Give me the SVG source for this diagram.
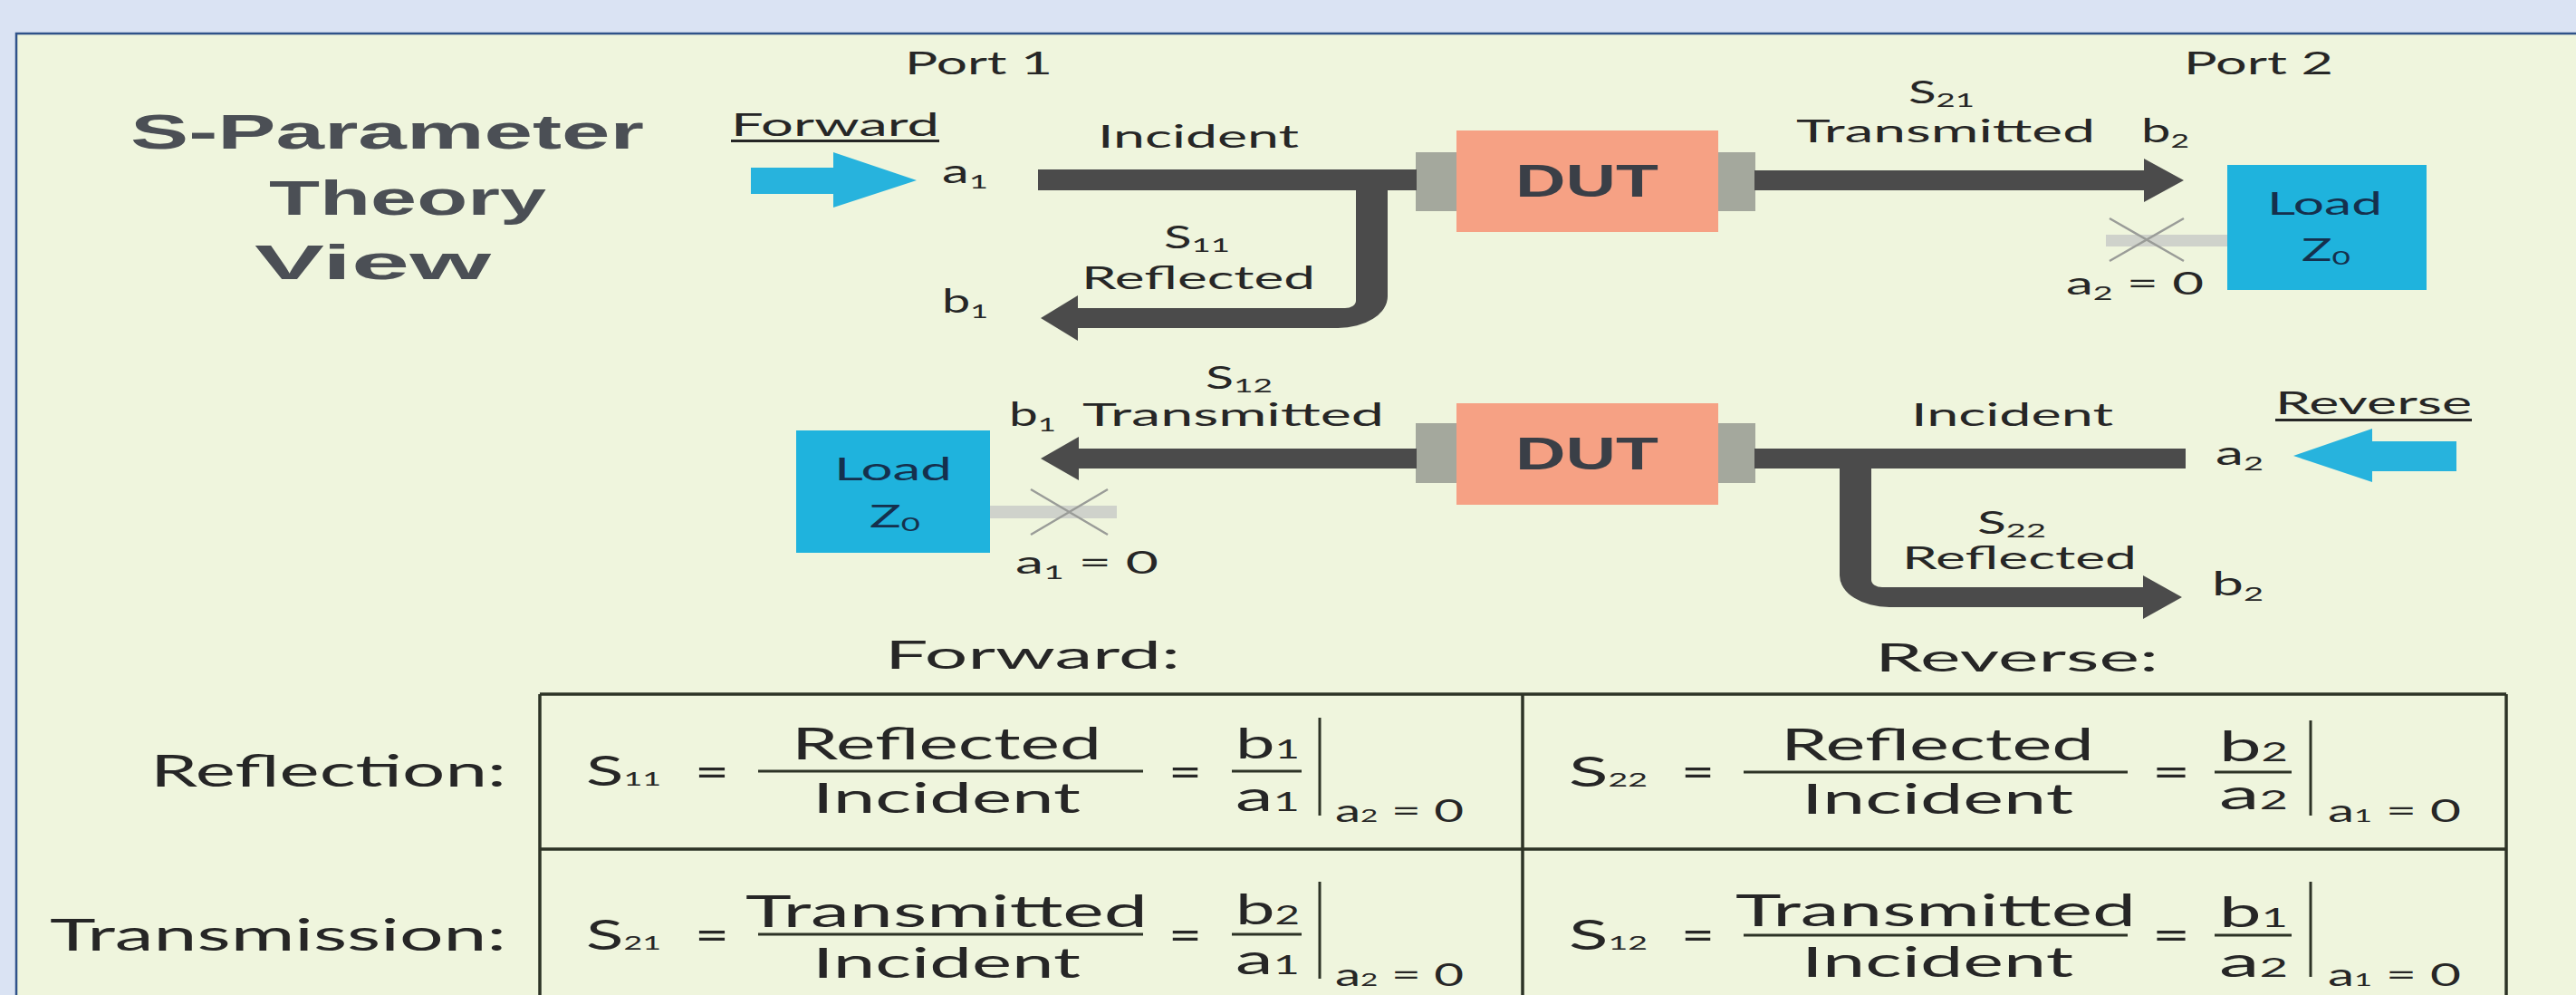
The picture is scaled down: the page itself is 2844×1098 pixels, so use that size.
<svg xmlns="http://www.w3.org/2000/svg" width="2844" height="1098" viewBox="0 0 2844 1098">
<style>
.lbl{font-family:Lato,"Open Sans","Liberation Sans",sans-serif;fill:#262626}
.ttl{font-family:"Liberation Sans",Arial,sans-serif;font-weight:bold;fill:#4b4f55}
.dut{font-family:"Liberation Sans",Arial,sans-serif;font-weight:bold;fill:#3a3f47;font-size:50px}
.load{font-family:Lato,"Open Sans","Liberation Sans",sans-serif;fill:#15304d}
.bar{fill:#4b4b4b}
.blue{fill:#27b3dd}
.tline{stroke:#2d3326;stroke-width:3.5;fill:none}
.fbar{stroke:#2d3326;stroke-width:3;fill:none}
.xmark{stroke:#9a9c98;stroke-width:2.5;fill:none}
.stub{fill:#cfd2cb}
</style>
<rect x="0" y="0" width="2844" height="1098" fill="#dae3f3"/>
<rect x="18" y="37" width="2830" height="1070" fill="#eff5dd" stroke="#2f5289" stroke-width="2.5"/>

<g id="title">
<text class="ttl" x="144" y="164" font-size="54" textLength="567" lengthAdjust="spacingAndGlyphs">S-Parameter</text>
<text class="ttl" x="297" y="237" font-size="54" textLength="306" lengthAdjust="spacingAndGlyphs">Theory</text>
<text class="ttl" x="281" y="308" font-size="54" textLength="261" lengthAdjust="spacingAndGlyphs">View</text>
</g>

<g id="port-labels">
<text class="lbl" x="999" y="82" font-size="35" textLength="163" lengthAdjust="spacingAndGlyphs">Port 1</text>
<text class="lbl" x="2411" y="82" font-size="35" textLength="165" lengthAdjust="spacingAndGlyphs">Port 2</text>
</g>

<g id="forward-source">
<text class="lbl" x="807" y="150" font-size="35" textLength="230" lengthAdjust="spacingAndGlyphs">Forward</text>
<rect x="807" y="154" width="230" height="3" fill="#262626"/>
<path class="blue" d="M829 185 L920 185 L920 168 L1012 199 L920 229 L920 214 L829 214 Z"/>
</g>

<g id="reverse-source">
<text class="lbl" x="2512" y="457" font-size="35" textLength="217" lengthAdjust="spacingAndGlyphs">Reverse</text>
<rect x="2512" y="462" width="217" height="3" fill="#262626"/>
<path class="blue" d="M2712 487 L2619 487 L2619 473 L2532 503 L2619 532 L2619 520 L2712 520 Z"/>
</g>

<g id="dut-forward">
<rect x="1563" y="168" width="45" height="65" fill="#a4a89d"/>
<rect x="1897" y="168" width="41" height="65" fill="#a4a89d"/>
<rect x="1608" y="144" width="289" height="112" fill="#f6a184"/>
<text class="dut" x="1752" y="217" text-anchor="middle" textLength="158" lengthAdjust="spacingAndGlyphs">DUT</text>
</g>

<g id="dut-reverse">
<rect x="1563" y="467" width="45" height="66" fill="#a4a89d"/>
<rect x="1897" y="467" width="41" height="66" fill="#a4a89d"/>
<rect x="1608" y="445" width="289" height="112" fill="#f6a184"/>
<text class="dut" x="1752" y="518" text-anchor="middle" textLength="158" lengthAdjust="spacingAndGlyphs">DUT</text>
</g>

<g id="load-port2">
<rect class="stub" x="2325" y="259" width="136" height="13"/>
<path class="xmark" d="M2329 241 L2411 288 M2329 288 L2411 241"/>
<rect x="2459" y="182" width="220" height="138" fill="#1fb3dd"/>
<text class="load" x="2503" y="237" font-size="35" textLength="127" lengthAdjust="spacingAndGlyphs">Load</text>
<text class="load" x="2541" y="288" font-size="35" textLength="54" lengthAdjust="spacingAndGlyphs">Z<tspan font-size="22" dy="4">0</tspan></text>
</g>

<g id="load-port1">
<rect class="stub" x="1091" y="558" width="142" height="14"/>
<path class="xmark" d="M1138 540 L1223 590 M1138 590 L1223 540"/>
<rect x="879" y="475" width="214" height="135" fill="#1fb3dd"/>
<text class="load" x="921" y="530" font-size="35" textLength="130" lengthAdjust="spacingAndGlyphs">Load</text>
<text class="load" x="960" y="582" font-size="35" textLength="56" lengthAdjust="spacingAndGlyphs">Z<tspan font-size="22" dy="4">0</tspan></text>
</g>

<g id="connectors">
<rect class="bar" x="1146" y="187" width="418" height="23"/>
<path class="bar" d="M1497 208 L1532 208 L1532 327 A55 35 0 0 1 1477 362 L1190 362 L1190 376 L1149 351 L1190 326 L1190 340 L1485 340 A12 8 0 0 0 1497 332 Z"/>
<path class="bar" d="M1937 188 L2367 188 L2367 175 L2411 199 L2367 223 L2367 210 L1937 210 Z"/>
<path class="bar" d="M1564 495 L1191 495 L1191 482 L1149 506 L1191 530 L1191 517 L1564 517 Z"/>
<rect class="bar" x="1937" y="495" width="476" height="22"/>
<path class="bar" d="M2031 515 L2066 515 L2066 640 A12 8 0 0 0 2078 648 L2366 648 L2366 635 L2409 659 L2366 683 L2366 670 L2086 670 A55 35 0 0 1 2031 635 Z"/>
</g>

<g id="forward-labels">
<text class="lbl" x="1040" y="202" font-size="36" textLength="51" lengthAdjust="spacingAndGlyphs">a<tspan font-size="22" dy="6">1</tspan></text>
<text class="lbl" x="1212" y="163" font-size="35" textLength="222" lengthAdjust="spacingAndGlyphs">Incident</text>
<text class="lbl" x="1285" y="274" font-size="34" textLength="73" lengthAdjust="spacingAndGlyphs">S<tspan font-size="22" dy="4">11</tspan></text>
<text class="lbl" x="1194" y="319" font-size="35" textLength="258" lengthAdjust="spacingAndGlyphs">Reflected</text>
<text class="lbl" x="1040" y="345" font-size="36" textLength="51" lengthAdjust="spacingAndGlyphs">b<tspan font-size="22" dy="6">1</tspan></text>
<text class="lbl" x="2107" y="114" font-size="34" textLength="73" lengthAdjust="spacingAndGlyphs">S<tspan font-size="22" dy="4">21</tspan></text>
<text class="lbl" x="1983" y="157" font-size="35" textLength="330" lengthAdjust="spacingAndGlyphs">Transmitted</text>
<text class="lbl" x="2364" y="157" font-size="36" textLength="53" lengthAdjust="spacingAndGlyphs">b<tspan font-size="22" dy="6">2</tspan></text>
<text class="lbl" x="2281" y="325" font-size="35" textLength="152" lengthAdjust="spacingAndGlyphs">a<tspan font-size="22" dy="6">2</tspan><tspan dy="-6"> = 0</tspan></text>
</g>

<g id="reverse-labels">
<text class="lbl" x="1331" y="429" font-size="34" textLength="74" lengthAdjust="spacingAndGlyphs">S<tspan font-size="22" dy="4">12</tspan></text>
<text class="lbl" x="1114" y="470" font-size="36" textLength="52" lengthAdjust="spacingAndGlyphs">b<tspan font-size="22" dy="6">1</tspan></text>
<text class="lbl" x="1195" y="470" font-size="35" textLength="333" lengthAdjust="spacingAndGlyphs">Transmitted</text>
<text class="lbl" x="2110" y="470" font-size="35" textLength="223" lengthAdjust="spacingAndGlyphs">Incident</text>
<text class="lbl" x="2446" y="513" font-size="36" textLength="53" lengthAdjust="spacingAndGlyphs">a<tspan font-size="22" dy="6">2</tspan></text>
<text class="lbl" x="2183" y="589" font-size="34" textLength="76" lengthAdjust="spacingAndGlyphs">S<tspan font-size="22" dy="4">22</tspan></text>
<text class="lbl" x="2100" y="628" font-size="35" textLength="259" lengthAdjust="spacingAndGlyphs">Reflected</text>
<text class="lbl" x="2442" y="657" font-size="36" textLength="57" lengthAdjust="spacingAndGlyphs">b<tspan font-size="22" dy="6">2</tspan></text>
<text class="lbl" x="1121" y="633" font-size="35" textLength="158" lengthAdjust="spacingAndGlyphs">a<tspan font-size="22" dy="6">1</tspan><tspan dy="-6"> = 0</tspan></text>
</g>

<g id="table">
<text class="lbl" x="977" y="738" font-size="43" textLength="326" lengthAdjust="spacingAndGlyphs">Forward:</text>
<text class="lbl" x="2070" y="741" font-size="43" textLength="313" lengthAdjust="spacingAndGlyphs">Reverse:</text>
<text class="lbl" x="166" y="868" font-size="49" textLength="393" lengthAdjust="spacingAndGlyphs">Reflection:</text>
<text class="lbl" x="55" y="1049" font-size="49" textLength="504" lengthAdjust="spacingAndGlyphs">Transmission:</text>
<path class="tline" d="M596 766 L2767 766 M596 937 L2767 937 M596 766 L596 1100 M1681 766 L1681 1100 M2767 766 L2767 1100"/>
</g>

<g id="eq-s11">
<text class="lbl" x="647" y="867" font-size="47" textLength="83" lengthAdjust="spacingAndGlyphs">S<tspan font-size="22">11</tspan></text>
<text class="lbl" x="767" y="868" font-size="46" textLength="38" lengthAdjust="spacingAndGlyphs">=</text>
<text class="lbl" x="874" y="838" font-size="48" textLength="342" lengthAdjust="spacingAndGlyphs">Reflected</text>
<path class="fbar" d="M837 851 L1262 851"/>
<text class="lbl" x="897" y="897" font-size="46" textLength="296" lengthAdjust="spacingAndGlyphs">Incident</text>
<text class="lbl" x="1290" y="868" font-size="46" textLength="37" lengthAdjust="spacingAndGlyphs">=</text>
<text class="lbl" x="1364" y="837" font-size="46" textLength="71" lengthAdjust="spacingAndGlyphs">b<tspan font-size="28">1</tspan></text>
<path class="fbar" d="M1360 851 L1437 851"/>
<text class="lbl" x="1364" y="895" font-size="46" textLength="71" lengthAdjust="spacingAndGlyphs">a<tspan font-size="28">1</tspan></text>
<path class="fbar" d="M1457 792 L1457 900"/>
<text class="lbl" x="1474" y="907" font-size="34" textLength="142" lengthAdjust="spacingAndGlyphs">a<tspan font-size="20">2</tspan> = 0</text>
</g>

<g id="eq-s21">
<text class="lbl" x="647" y="1048" font-size="47" textLength="83" lengthAdjust="spacingAndGlyphs">S<tspan font-size="22">21</tspan></text>
<text class="lbl" x="767" y="1048" font-size="46" textLength="38" lengthAdjust="spacingAndGlyphs">=</text>
<text class="lbl" x="823" y="1023" font-size="48" textLength="444" lengthAdjust="spacingAndGlyphs">Transmitted</text>
<path class="fbar" d="M837 1031 L1262 1031"/>
<text class="lbl" x="897" y="1079" font-size="46" textLength="296" lengthAdjust="spacingAndGlyphs">Incident</text>
<text class="lbl" x="1290" y="1048" font-size="46" textLength="37" lengthAdjust="spacingAndGlyphs">=</text>
<text class="lbl" x="1364" y="1020" font-size="46" textLength="71" lengthAdjust="spacingAndGlyphs">b<tspan font-size="28">2</tspan></text>
<path class="fbar" d="M1360 1031 L1437 1031"/>
<text class="lbl" x="1364" y="1075" font-size="46" textLength="71" lengthAdjust="spacingAndGlyphs">a<tspan font-size="28">1</tspan></text>
<path class="fbar" d="M1457 973 L1457 1080"/>
<text class="lbl" x="1474" y="1088" font-size="34" textLength="142" lengthAdjust="spacingAndGlyphs">a<tspan font-size="20">2</tspan> = 0</text>
</g>

<g id="eq-s22">
<text class="lbl" x="1732" y="868" font-size="47" textLength="87" lengthAdjust="spacingAndGlyphs">S<tspan font-size="22">22</tspan></text>
<text class="lbl" x="1856" y="868" font-size="46" textLength="37" lengthAdjust="spacingAndGlyphs">=</text>
<text class="lbl" x="1966" y="839" font-size="48" textLength="346" lengthAdjust="spacingAndGlyphs">Reflected</text>
<path class="fbar" d="M1925 852 L2349 852"/>
<text class="lbl" x="1989" y="898" font-size="46" textLength="300" lengthAdjust="spacingAndGlyphs">Incident</text>
<text class="lbl" x="2376" y="868" font-size="46" textLength="42" lengthAdjust="spacingAndGlyphs">=</text>
<text class="lbl" x="2450" y="840" font-size="46" textLength="76" lengthAdjust="spacingAndGlyphs">b<tspan font-size="28">2</tspan></text>
<path class="fbar" d="M2445 852 L2530 852"/>
<text class="lbl" x="2450" y="893" font-size="46" textLength="76" lengthAdjust="spacingAndGlyphs">a<tspan font-size="28">2</tspan></text>
<path class="fbar" d="M2551 795 L2551 900"/>
<text class="lbl" x="2570" y="907" font-size="34" textLength="147" lengthAdjust="spacingAndGlyphs">a<tspan font-size="20">1</tspan> = 0</text>
</g>

<g id="eq-s12">
<text class="lbl" x="1732" y="1048" font-size="47" textLength="87" lengthAdjust="spacingAndGlyphs">S<tspan font-size="22">12</tspan></text>
<text class="lbl" x="1856" y="1048" font-size="46" textLength="37" lengthAdjust="spacingAndGlyphs">=</text>
<text class="lbl" x="1916" y="1022" font-size="48" textLength="442" lengthAdjust="spacingAndGlyphs">Transmitted</text>
<path class="fbar" d="M1925 1032 L2349 1032"/>
<text class="lbl" x="1989" y="1078" font-size="46" textLength="300" lengthAdjust="spacingAndGlyphs">Incident</text>
<text class="lbl" x="2376" y="1048" font-size="46" textLength="42" lengthAdjust="spacingAndGlyphs">=</text>
<text class="lbl" x="2450" y="1023" font-size="46" textLength="76" lengthAdjust="spacingAndGlyphs">b<tspan font-size="28">1</tspan></text>
<path class="fbar" d="M2445 1032 L2530 1032"/>
<text class="lbl" x="2450" y="1078" font-size="46" textLength="76" lengthAdjust="spacingAndGlyphs">a<tspan font-size="28">2</tspan></text>
<path class="fbar" d="M2551 973 L2551 1078"/>
<text class="lbl" x="2570" y="1088" font-size="34" textLength="147" lengthAdjust="spacingAndGlyphs">a<tspan font-size="20">1</tspan> = 0</text>
</g>
</svg>
